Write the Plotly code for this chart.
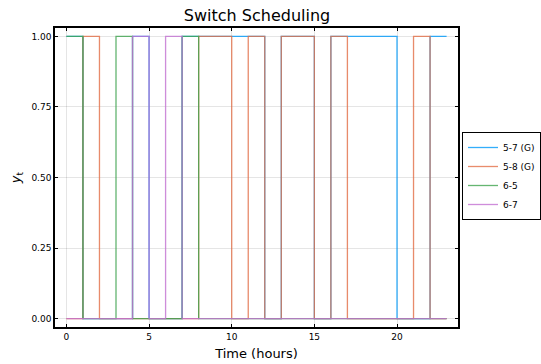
import plotly.graph_objects as go

hours = list(range(0, 24))
series_names = ["5-7 (G)", "5-8 (G)", "6-5", "6-7"]
y_57 = [1, 0, 0, 0, 1, 0, 0, 1, 1, 1, 1, 1, 0, 1, 1, 0, 1, 1, 1, 1, 0, 0, 1, 1]
y_58 = [0, 1, 0, 0, 0, 0, 0, 0, 1, 1, 0, 1, 0, 1, 1, 0, 1, 0, 0, 0, 0, 1, 0, 0]
y_65 = [1, 0, 0, 1, 0, 0, 0, 1, 0, 0, 0, 0, 0, 0, 0, 0, 0, 0, 0, 0, 0, 0, 0, 0]
y_67 = [0, 0, 0, 0, 1, 0, 1, 0, 0, 0, 0, 0, 0, 0, 0, 0, 0, 0, 0, 0, 0, 0, 0, 0]
colors = ["#009AFA", "#E36F47", "#3EA44E", "#C371D2"]
x_ticks = [0, 5, 10, 15, 20]
y_ticks = [0, 0.25, 0.5, 0.75, 1.0]
y_tick_labels = ["0.00", "0.25", "0.50", "0.75", "1.00"]

fig = go.Figure()
for name, ys, c in zip(series_names, [y_57, y_58, y_65, y_67], colors):
    fig.add_trace(go.Scatter(x=hours, y=ys, mode="lines", name=name,
                             line=dict(color=c, width=1.3, shape="hv"),
                             opacity=0.8))

axis_common = dict(showline=True, linecolor="black", linewidth=1.5, mirror="allticks",
                   ticks="inside", ticklen=3, tickcolor="black",
                   showgrid=True, gridcolor="rgba(0,0,0,0.1)", gridwidth=1,
                   zeroline=False, automargin=False, tickfont=dict(size=9, color="black"))

L, R, T, B = 55, 0, 28, 37
pw = 541 - L - R

fig.update_layout(
    width=541, height=364,
    margin=dict(l=L, r=R, t=T, b=B),
    paper_bgcolor="white", plot_bgcolor="white",
    font=dict(family="DejaVu Sans", color="black"),
    title=dict(text="Switch Scheduling", x=257 / 541, xanchor="center",
               y=1 - 15 / 364, yanchor="middle", font=dict(size=16)),
    xaxis=dict(domain=[0, (458 - L) / pw], range=[-0.69, 23.69], tickvals=x_ticks,
               title=dict(text="Time (hours)", font=dict(size=13), standoff=8), **axis_common),
    yaxis=dict(range=[-0.03, 1.03], tickvals=y_ticks, ticktext=y_tick_labels,
               title=dict(text="<i>y</i><sub>t</sub>", font=dict(size=13), standoff=8), **axis_common),
    legend=dict(x=(462 - L) / pw, y=1 - (176 - T) / (364 - T - B),
                xanchor="left", yanchor="middle",
                bordercolor="black", borderwidth=1, bgcolor="white",
                font=dict(size=9), tracegroupgap=0),
)

fig.write_html("out.html")
